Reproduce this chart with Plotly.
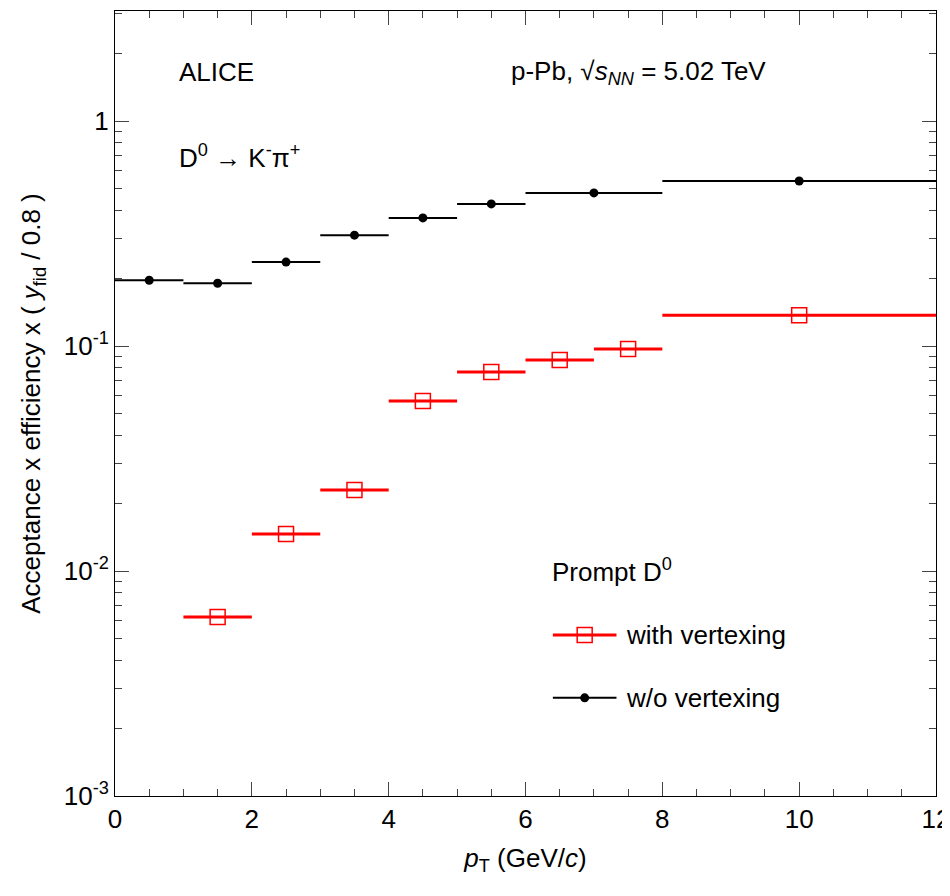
import plotly.graph_objects as go

bx = [0.5, 1.5, 2.5, 3.5, 4.5, 5.5, 7, 10]
bxe = [0.5, 0.5, 0.5, 0.5, 0.5, 0.5, 1, 2]
by = [0.196, 0.19, 0.236, 0.311, 0.371, 0.428, 0.479, 0.541]
rx = [1.5, 2.5, 3.5, 4.5, 5.5, 6.5, 7.5, 10]
rxe = [0.5, 0.5, 0.5, 0.5, 0.5, 0.5, 0.5, 2]
ry = [0.00625, 0.0146, 0.0229, 0.057, 0.0766, 0.0867, 0.097, 0.137]

F = "Liberation Sans"
fig = go.Figure()
fig.add_trace(go.Scatter(x=rx, y=ry, mode="markers", name="with vertexing",
    marker=dict(symbol="square-open", size=15, color="red", line=dict(width=1.5)),
    error_x=dict(type="data", array=rxe, color="red", thickness=3, width=0),
    showlegend=False))
fig.add_trace(go.Scatter(x=bx, y=by, mode="markers", name="w/o vertexing",
    marker=dict(symbol="circle", size=9, color="black"),
    error_x=dict(type="data", array=bxe, color="black", thickness=2, width=0),
    showlegend=False))
# legend samples
LX = [6.4, 7.33]
fig.add_trace(go.Scatter(x=LX, y=[0.0052, 0.0052], mode="lines",
    line=dict(color="red", width=3), hoverinfo="skip", showlegend=False))
fig.add_trace(go.Scatter(x=[sum(LX)/2], y=[0.0052], mode="markers",
    marker=dict(symbol="square-open", size=15, color="red", line=dict(width=1.5)),
    hoverinfo="skip", showlegend=False))
fig.add_trace(go.Scatter(x=LX, y=[0.00273, 0.00273], mode="lines",
    line=dict(color="black", width=2), hoverinfo="skip", showlegend=False))
fig.add_trace(go.Scatter(x=[sum(LX)/2], y=[0.00273], mode="markers",
    marker=dict(symbol="circle", size=9, color="black"),
    hoverinfo="skip", showlegend=False))

minor_vals = [m * 10**e for e in (-3, -2, -1, 0) for m in range(2, 10)]
ax = dict(showline=True, linecolor="black", linewidth=1, mirror="ticks",
          ticks="inside", showgrid=False, zeroline=False,
          tickfont=dict(family=F, size=26, color="black"))
fig.update_xaxes(range=[0, 12], dtick=2, ticklen=14, minor=dict(ticks="inside", dtick=0.5, ticklen=7),
    title=dict(text="<i>p</i><sub>T</sub> (GeV/<i>c</i>)", font=dict(family=F, size=26)), **ax)
fig.update_yaxes(type="log", range=[-3, 0.489],
    tickvals=[0.001, 0.01, 0.1, 1], ticktext=["10<sup>-3</sup>", "10<sup>-2</sup>", "10<sup>-1</sup>", "1"],
    ticklen=14, minor=dict(ticks="inside", ticklen=7, showgrid=False, tickvals=minor_vals),
    title=dict(text="Acceptance x efficiency x ( <i>y</i><sub>fid</sub> / 0.8 )", font=dict(family=F, size=26)),
    **ax)

def ann(x, y, t, s=26):
    fig.add_annotation(xref="paper", yref="paper", x=x, y=y, text=t, showarrow=False,
        xanchor="left", yanchor="middle", font=dict(family=F, size=s, color="black"))
ann(0.075, 0.922, "ALICE")
ann(0.075, 0.815, "D<sup>0</sup> → K<sup>-</sup>π<sup>+</sup>")
ann(0.48, 0.922, "p-Pb, √<i>s</i><sub><i>NN</i></sub> = 5.02 TeV")
ann(0.53, 0.287, "Prompt D<sup>0</sup>")
ann(0.62, 0.205, "with vertexing")
ann(0.62, 0.125, "w/o vertexing")

fig.update_layout(width=950, height=896, plot_bgcolor="white", paper_bgcolor="white",
    margin=dict(l=107, r=22, t=3, b=108), font=dict(family=F, color="black"))
fig.write_html("out.html")
